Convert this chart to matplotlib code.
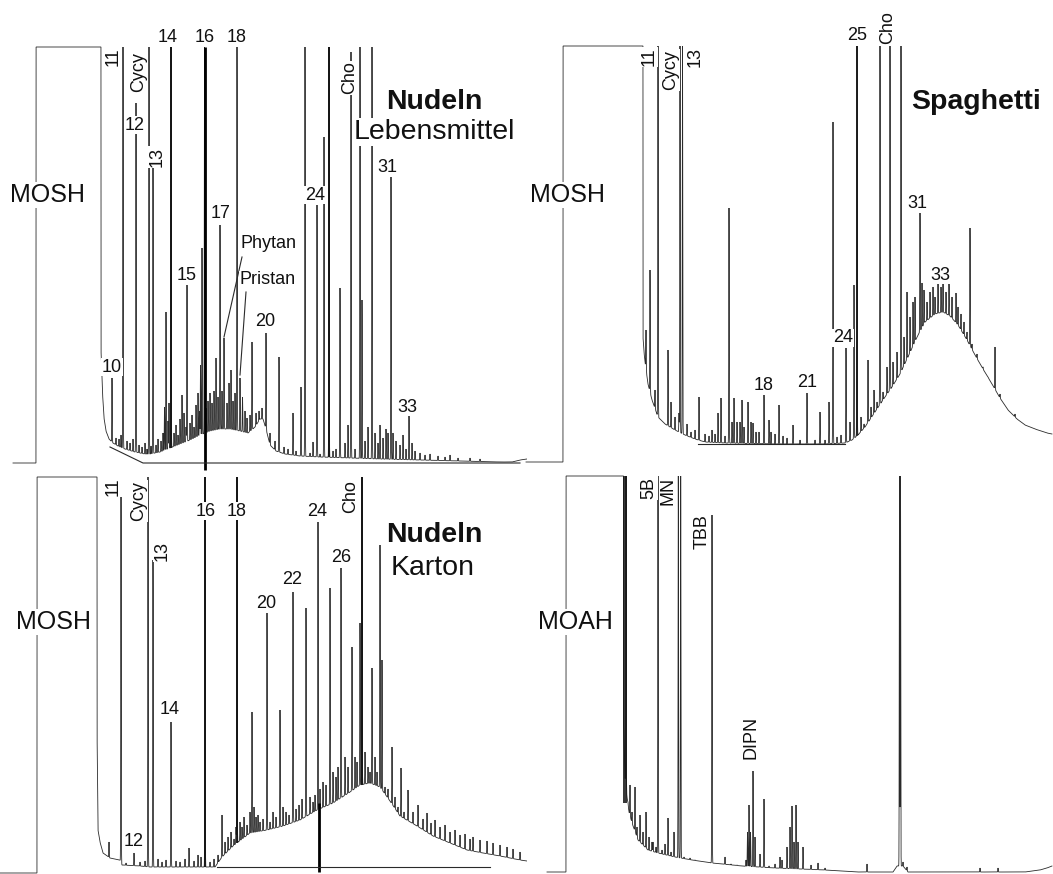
import numpy as np
import matplotlib
matplotlib.use("Agg")
import matplotlib.pyplot as plt

plt.rcParams['font.family'] = ['Liberation Sans', 'DejaVu Sans']

INK = '#2a2a2a'

# ---------------------------------------------------------------- data
# Retention scale in arbitrary units, signal in detector units (0 = baseline).

# Nudeln / Lebensmittel (MOSH)
tl_ceiling = 416
tl_solvent = [36, 101]
tl_trace_rt = [13, 36, 101, 102.5, 104, 106, 109, 113, 118, 125, 135, 145, 150, 160, 170,
               180, 190, 200, 210, 220, 230, 240, 248, 255, 260, 263, 266, 270, 276, 285,
               300, 320, 350, 380, 420, 460, 500, 512, 520, 527]
tl_trace_lvl = [0, 0, 113, 70, 45, 32, 24, 20, 17, 14, 11, 9, 9, 11, 15,
                19, 23, 28, 32, 34, 34, 32, 30, 36, 44, 44, 34, 18, 12, 9,
                7, 6, 5, 4, 3, 2, 1, 1, 3, 4]
tl_peak_rt = [112, 123, 136, 149, 153, 166, 171, 182, 187, 202, 204.5, 220, 224, 237, 240,
              252, 266, 279, 293, 301, 305, 313, 317, 324, 329, 340, 351, 360, 362, 372,
              391, 409, 388, 380, 368, 348,
              116, 119, 121, 127, 130, 133, 139, 142, 145, 147, 151, 156, 158, 161, 163,
              164.5, 168, 169, 174, 176, 178, 180, 184, 186, 190, 192, 194, 196, 198, 199.5,
              200.5, 206, 208, 210, 212, 214, 216, 218, 222, 227, 229, 231, 233, 235, 242.5,
              245, 247, 250, 256, 259, 262, 270, 275, 284, 288, 296, 310, 320, 333, 336,
              345, 355, 365, 375, 378, 383, 386, 393, 396, 400, 403, 406, 412, 415, 420,
              425, 430, 438, 445, 450, 458, 470, 480]
tl_peak_top = [85, 416, 360, 416, 296, 151, 416, 68, 178, 215, 416, 238, 125, 416, 85,
               121, 130, 106, 50, 76, 416, 21, 258, 326, 416, 175, 411, 416, 163, 416,
               286, 48, 30, 38, 36, 38,
               25, 24, 28, 22, 20, 24, 18, 16, 20, 14, 17, 18, 24, 22, 30,
               56, 42, 60, 30, 38, 28, 44, 50, 36, 40, 48, 36, 58, 70, 52,
               98, 55, 62, 70, 60, 72, 105, 66, 72, 60, 80, 93, 62, 70, 66,
               52, 45, 48, 50, 52, 55, 30, 22, 16, 14, 12, 10, 9, 12, 14,
               20, 14, 22, 30, 20, 25, 34, 30, 22, 18, 28, 14, 20, 12, 10,
               8, 9, 7, 6, 8, 5, 5, 4]

# Spaghetti (MOSH)
tr_ceiling = 416
tr_solvent = [38, 118]
tr_trace_rt = [1, 38, 118, 119, 120, 123, 127, 133, 140, 150, 160, 170, 180, 200, 250,
               300, 320, 327, 333, 340, 350, 360, 367, 375, 383, 392, 400, 410, 418, 425,
               433, 442, 450, 458, 467, 475, 483, 492, 500, 510, 522, 527]
tr_trace_lvl = [0, 0, 125, 110, 100, 78, 62, 45, 38, 32, 27, 23, 20, 19, 18,
                18, 19, 22, 27, 35, 50, 65, 75, 88, 105, 125, 140, 148, 150, 146,
                137, 122, 107, 93, 78, 64, 52, 43, 37, 33, 29, 28]
tr_peak_rt = [121, 125, 130, 133, 143, 146, 150, 154, 155, 157.5, 162, 166, 170, 174, 180,
              184, 187, 190, 193, 196, 200, 204, 207, 209, 212, 215, 217, 219, 223, 226,
              228, 231, 234, 239, 244, 246, 250, 254, 258, 262, 268, 275, 282, 290, 295,
              300, 304, 308, 312, 316, 321, 325, 329, 332, 336, 339, 343, 346, 349, 352,
              355, 358, 362, 365, 368, 372, 376, 379, 382, 385, 388, 390, 395, 397, 399,
              402, 405, 408, 410, 413, 416, 418, 421, 424, 427, 431, 433, 436, 439, 442,
              445, 447, 452, 458, 463, 470, 475, 490]
tr_peak_top = [132, 192, 72, 416, 112, 60, 45, 49, 416, 416, 38, 30, 32, 65, 28,
               26, 32, 28, 49, 64, 26, 254, 40, 64, 40, 40, 62, 35, 60, 40,
               39, 30, 30, 67, 42, 30, 28, 57, 26, 24, 37, 22, 69, 22, 50,
               22, 60, 340, 25, 27, 114, 40, 177, 416, 45, 38, 102, 55, 72, 60,
               416, 70, 95, 416, 100, 110, 416, 125, 170, 145, 160, 165, 249, 179, 172,
               160, 170, 175, 165, 180, 175, 182, 170, 178, 165, 169, 155, 148, 140, 130,
               234, 118, 108, 95, 85, 115, 68, 48]

# Nudeln / Karton (MOSH)
bl_ceiling = 390
bl_solvent = [37, 97]
bl_trace_rt = [0, 37, 97, 98, 100, 103, 110, 120, 122, 140, 150, 215, 222, 233, 250,
               267, 283, 300, 317, 333, 350, 360, 370, 380, 390, 400, 417, 433, 450, 467,
               483, 500, 520, 527]
bl_trace_lvl = [-6, -6, 140, 37, 25, 14, 9, 7, 2, 1, 0, 0, 10, 21, 34,
                37, 41, 47, 57, 64, 75, 82, 84, 80, 66, 51, 41, 31, 24, 17,
                14, 11, 7, 6]
bl_peak_rt = [109, 121, 134, 148, 153, 171, 189, 205, 222, 237, 252, 267, 280, 293, 306,
              318, 330, 341, 352, 360, 362, 372, 380, 382, 392, 401,
              408, 413, 418, 423, 427, 431, 435, 440, 445, 450, 455, 460, 465, 470, 473,
              480, 487, 493, 500, 507, 513, 520,
              126, 140, 145, 158, 162, 166, 176, 180, 185, 194, 198, 201, 210, 214, 218,
              225, 228, 231, 234, 236, 240, 242, 244, 247, 250, 254, 256, 258, 260, 263,
              270, 273, 276, 283, 286, 289, 296, 299, 302, 310, 313, 315, 320, 323, 326,
              333, 336, 338, 345, 348, 355, 357, 365, 368, 370, 375, 377, 385, 388, 395,
              398, 404]
bl_peak_top = [25, 390, 14, 390, 307, 145, 19, 390, 52, 390, 155, 254, 157, 275, 259,
               345, 279, 299, 220, 244, 390, 199, 322, 207, 120, 99,
               77, 55, 62, 48, 54, 44, 47, 40, 42, 35, 37, 32, 33, 28, 30,
               27, 26, 24, 22, 20, 18, 15,
               4, 5, 6, 8, 5, 7, 6, 5, 8, 6, 12, 10, 5, 8, 12,
               25, 30, 35, 28, 40, 45, 40, 50, 42, 55, 60, 50, 52, 45, 48,
               45, 55, 50, 60, 55, 52, 58, 62, 68, 70, 65, 72, 78, 85, 82,
               95, 90, 100, 110, 100, 110, 105, 115, 100, 95, 110, 95, 80, 78, 70,
               60, 55]

# MOAH
br_ceiling = 396
br_solvent = [41, 98.5]
br_trace_rt = [22, 41, 98.5, 100, 102, 104, 107, 113, 123, 133, 150, 167, 187, 217, 250,
               300, 333, 368, 372, 378, 383, 500, 515, 522, 527]
br_trace_lvl = [0, 0, 150, 95, 75, 60, 49, 32, 22, 19, 15, 12, 9, 6, 4,
                2, 0, 0, 6, 6, 0, 0, 2, 4, 6]
br_peak_rt = [101, 105, 110, 115, 121, 128, 133, 143, 149, 153.3, 155.7, 162, 187, 200, 221,
              222.5, 224, 225.5, 228, 230, 235, 239, 255, 257, 262, 265, 267, 269, 271, 273,
              278, 293, 342, 374.5, 375.5, 378, 382, 455, 473,
              103, 107, 112, 118, 124, 127, 131, 137, 140, 146, 159, 165, 170, 176, 182,
              195, 206, 212, 244, 250, 286, 300]
br_peak_top = [396, 87, 85, 57, 60, 30, 396, 54, 40, 396, 396, 10, 357, 15, 12,
               40, 67, 40, 101, 35, 18, 73, 15, 12, 25, 45, 66, 30, 67, 30,
               25, 9, 8, 396, 396, 10, 5, 4, 4,
               70, 60, 45, 40, 35, 30, 25, 22, 28, 20, 15, 14, 12, 10, 9,
               8, 8, 7, 6, 8, 7, 4]

# ---------------------------------------------------------------- drawing
W, H = 1053, 874
fig = plt.figure(figsize=(W / 100, H / 100), dpi=100)
fig.patch.set_facecolor('white')


def panel(px_left, px_right, px_top, px_bottom, x_offset, base):
    ax = fig.add_axes([px_left / W, 1 - px_bottom / H,
                       (px_right - px_left) / W, (px_bottom - px_top) / H])
    ax.set_xlim(px_left - x_offset, px_right - x_offset)
    ax.set_ylim(base - px_bottom, base - px_top)
    ax.axis('off')
    return ax


def chromatogram(ax, trace_rt, trace_lvl, solvent, peak_rt, peak_top, ceiling, sigma=0.22):
    x = np.arange(trace_rt[0], trace_rt[-1], 0.05)
    y = np.interp(x, trace_rt, trace_lvl)
    y[(x >= solvent[0]) & (x <= solvent[1])] = ceiling
    for rt, top in zip(peak_rt, peak_top):
        amp = top - np.interp(rt, trace_rt, trace_lvl)
        if amp > 0:
            y = y + amp * np.exp(-0.5 * ((x - rt) / sigma) ** 2)
    y = np.minimum(y, ceiling)
    ax.plot(x, y, color=INK, lw=0.6, solid_joinstyle='miter')


def bold_peaks(ax, rts, trace_rt, trace_lvl, ceiling, lw=1.3):
    lows = np.interp(rts, trace_rt, trace_lvl)
    ax.vlines(rts, lows, ceiling, color='#111111', lw=lw)


def label(ax, text, x, h, rot=0, size=13, weight='normal'):
    ax.text(x, h, text, rotation=rot, fontsize=size, fontweight=weight,
            ha='center', va='center', color='#111111', zorder=5, clip_on=False,
            bbox=dict(facecolor='white', edgecolor='none', pad=0.6))


ax_tl = panel(0, 527, 0, 472, 0, 463)
ax_tr = panel(525, 1053, 0, 472, 525, 462)
ax_bl = panel(0, 527, 472, 874, 0, 867)
ax_br = panel(525, 1053, 472, 874, 525, 872)

chromatogram(ax_tl, tl_trace_rt, tl_trace_lvl, tl_solvent, tl_peak_rt, tl_peak_top, tl_ceiling)
chromatogram(ax_tr, tr_trace_rt, tr_trace_lvl, tr_solvent, tr_peak_rt, tr_peak_top, tr_ceiling)
chromatogram(ax_bl, bl_trace_rt, bl_trace_lvl, bl_solvent, bl_peak_rt, bl_peak_top, bl_ceiling)
chromatogram(ax_br, br_trace_rt, br_trace_lvl, br_solvent, br_peak_rt, br_peak_top, br_ceiling)

# emphasised n-alkane markers and integration baselines
ax_tl.vlines(204.5, -7, tl_ceiling, color='black', lw=2.0)
bold_peaks(ax_tl, [171, 329], tl_trace_rt, tl_trace_lvl, tl_ceiling)
ax_tl.plot([110, 143, 520], [16, 0, 0], color=INK, lw=0.8)

bold_peaks(ax_tr, [332], tr_trace_rt, tr_trace_lvl, tr_ceiling, lw=1.1)
ax_tr.plot([173, 320], [18, 18], color=INK, lw=0.8)

bold_peaks(ax_bl, [205, 237, 362], bl_trace_rt, bl_trace_lvl, bl_ceiling)
ax_bl.vlines(319, -5, 64, color='black', lw=2.0)
ax_bl.plot([217, 490], [0, 0], color=INK, lw=0.8)

ax_br.vlines([98.5, 101], 69, br_ceiling, color='#111111', lw=1.2)

# annotations: Nudeln / Lebensmittel
for args in [("MOSH", 47, 268, 0, 18), ("10", 112, 96), ("11", 113, 406, 90),
             ("Cycy", 139, 391, 90), ("12", 135, 338), ("13", 157, 306, 90),
             ("14", 168, 426), ("15", 187, 188), ("16", 205, 426), ("17", 221, 250),
             ("18", 237, 426), ("Phytan", 268, 220), ("Pristan", 268, 183),
             ("20", 265, 141), ("24", 315, 268), ("Cho", 350, 385, 90),
             ("31", 387, 296), ("33", 407, 56)]:
    label(ax_tl, *args)
label(ax_tl, "Nudeln", 434, 361, size=20.5, weight='bold')
label(ax_tl, "Lebensmittel", 434, 331, size=20.5)
ax_tl.plot([242, 224], [206, 126], color=INK, lw=0.8)
ax_tl.plot([246, 240], [171, 88], color=INK, lw=0.8)

# annotations: Spaghetti
for args in [("MOSH", 43, 267, 0, 18), ("11", 124, 405, 90), ("Cycy", 146, 392, 90),
             ("13", 170, 405, 90), ("18", 239, 77), ("21", 282, 80), ("24", 318, 124),
             ("25", 332, 427), ("Cho", 363, 434, 90), ("31", 392, 259), ("33", 415, 187)]:
    label(ax_tr, *args)
label(ax_tr, "Spaghetti", 451, 360, size=20.5, weight='bold')

# annotations: Nudeln / Karton
for args in [("MOSH", 54, 245, 0, 18), ("11", 113, 380, 90), ("Cycy", 139, 366, 90),
             ("12", 134, 25), ("13", 162, 316, 90), ("14", 170, 157), ("16", 206, 356),
             ("18", 237, 356), ("20", 266, 264), ("22", 292, 287), ("24", 317, 355),
             ("26", 341, 309), ("Cho", 351, 370, 90)]:
    label(ax_bl, *args)
label(ax_bl, "Nudeln", 434, 332, size=20.5, weight='bold')
label(ax_bl, "Karton", 433, 299, size=20.5)

# annotations: MOAH
for args in [("MOAH", 50, 250, 0, 18), ("5B", 124, 384, 90), ("MN", 143, 381, 90),
             ("TBB", 177, 340, 90), ("DIPN", 226, 135, 90)]:
    label(ax_br, *args)

fig.savefig('out.png', dpi=100, facecolor='white')
